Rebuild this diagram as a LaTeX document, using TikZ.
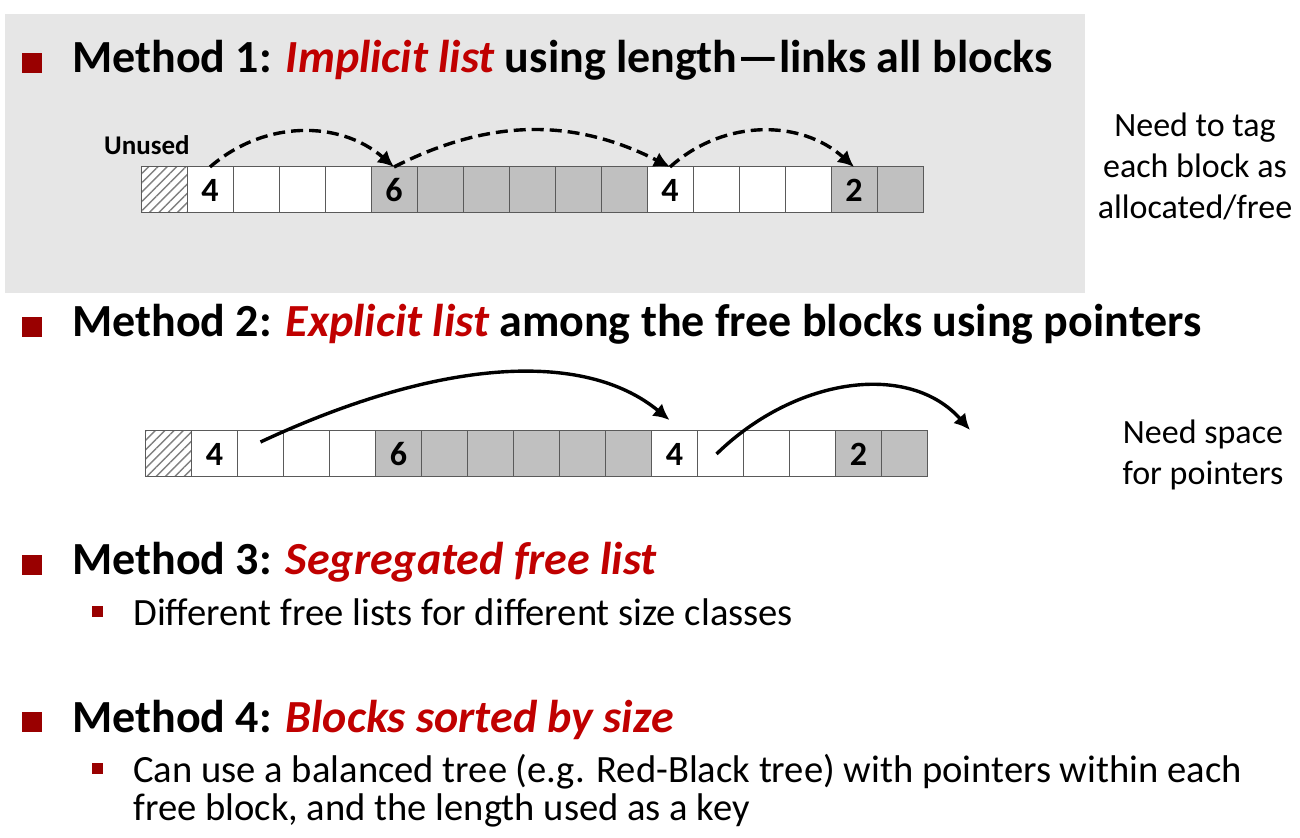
\documentclass[tikz,border=0pt]{standalone}
\usepackage{fontspec}
\setmainfont{Carlito}
\usepackage{xcolor}
\usetikzlibrary{arrows.meta, positioning, patterns.meta}
\definecolor{rougeTitre}{HTML}{C00000}
\definecolor{rougePuce}{HTML}{990000}
\definecolor{grisFond}{HTML}{E6E6E6}
\definecolor{grisBloc}{HTML}{C0C0C0}
\definecolor{grisBord}{HTML}{5A5A5A}

\begin{document}
\begin{tikzpicture}[
				x=0.5pt, y=-0.5pt,
				node distance=0pt,
				% Styles des cases
				case/.style={draw=grisBord, line width=0.5pt, minimum width=23pt, minimum height=23pt, inner sep=0pt, outer sep=0pt, font=\fontsize{17}{18}\selectfont\bfseries},
				libre/.style={case, fill=white},
				occupe/.style={case, fill=grisBloc},
				hachure/.style={case, preaction={fill=white}, pattern={Lines[angle=45, distance=3.3pt, line width=0.7pt]}, pattern color=gray},
				% Styles du texte
				titre/.style={anchor=base west, inner sep=0pt, font=\fontsize{23}{27}\selectfont\bfseries},
				sousTexte/.style={anchor=base west, inner sep=0pt, align=left, font=\fontsize{19.3}{19}\selectfont},
				note/.style={align=center, inner sep=0pt, font=\fontsize{17}{20.5}\selectfont},
				puce/.style={fill=rougePuce, minimum size=10pt, inner sep=0pt, anchor=south west},
				petitePuce/.style={fill=rougePuce, minimum size=5.5pt, inner sep=0pt, anchor=south west},
				% Styles des fleches
				flecheTirets/.style={-{Latex[length=8pt, width=8pt]}, line width=1.7pt, dash pattern=on 6pt off 3pt},
				fleche/.style={-{Latex[length=8pt, width=8pt]}, line width=1.7pt},
				]
				
				\useasboundingbox (0,0) rectangle (1300,838);
				\fill[grisFond] (5,14) rectangle (1085,293);
				
				% Methode 1
				\node[puce] (puce1) at (22,73) {};
				\node[titre] (titre1) at (72,73) {Method 1: \textcolor{rougeTitre}{\itshape Implicit list} using length---links all blocks};
				
				\node[hachure] (A0) at (164,190) {};
				\node[libre, right=of A0] (A1) {4};
				\node[libre, right=of A1] (A2) {};
				\node[libre, right=of A2] (A3) {};
				\node[libre, right=of A3] (A4) {};
				\node[occupe, right=of A4] (A5) {6};
				\node[occupe, right=of A5] (A6) {};
				\node[occupe, right=of A6] (A7) {};
				\node[occupe, right=of A7] (A8) {};
				\node[occupe, right=of A8] (A9) {};
				\node[occupe, right=of A9] (A10) {};
				\node[libre, right=of A10] (A11) {4};
				\node[libre, right=of A11] (A12) {};
				\node[libre, right=of A12] (A13) {};
				\node[libre, right=of A13] (A14) {};
				\node[occupe, right=of A14] (A15) {2};
				\node[occupe, right=of A15] (A16) {};
				
				\node[anchor=base east, inner sep=0pt, font=\fontsize{13.5}{15}\selectfont\bfseries] (inutilise) at (190,155) {Unused};
				
				\draw[flecheTirets] (A1.north) to[bend left=41] (A5.north);
				\draw[flecheTirets] (A5.north) to[bend left=27] (A11.north);
				\draw[flecheTirets] (A11.north) to[bend left=42] (A15.north);
				
				\node[note] (noteTag) at (1195,166) {Need to tag\\each block as\\allocated/free};
				
				% Methode 2
				\node[puce] (puce2) at (22,337) {};
				\node[titre] (titre2) at (72,337) {Method 2: \textcolor{rougeTitre}{\itshape Explicit list} among the free blocks using pointers};
				
				\node[hachure] (B0) at (168.5,454) {};
				\node[libre, right=of B0] (B1) {4};
				\node[libre, right=of B1] (B2) {};
				\node[libre, right=of B2] (B3) {};
				\node[libre, right=of B3] (B4) {};
				\node[occupe, right=of B4] (B5) {6};
				\node[occupe, right=of B5] (B6) {};
				\node[occupe, right=of B6] (B7) {};
				\node[occupe, right=of B7] (B8) {};
				\node[occupe, right=of B8] (B9) {};
				\node[occupe, right=of B9] (B10) {};
				\node[libre, right=of B10] (B11) {4};
				\node[libre, right=of B11] (B12) {};
				\node[libre, right=of B12] (B13) {};
				\node[libre, right=of B13] (B14) {};
				\node[occupe, right=of B14] (B15) {2};
				\node[occupe, right=of B15] (B16) {};
				
				\coordinate (finPointeur) at (970,430);
				\draw[fleche] ([yshift=6pt]B2.center) .. controls +(180,-84) and +(-85,-70) .. ([shift={(-2.5pt,5.5pt)}]B11.north);
				\draw[fleche] ([xshift=-2pt]B12.center) .. controls +(80,-78) and +(-60,-68) .. (finPointeur);
				
				\node[note] (notePointeurs) at (1203,455) {Need space\\for pointers};
				
				% Methode 3
				\node[puce] (puce3) at (22,575) {};
				\node[titre] (titre3) at (72,575) {Method 3: \textcolor{rougeTitre}{\itshape Segregated free list}};
				\node[petitePuce] (sousPuce3) at (92,617) {};
				\node[sousTexte] (texte3) at (133,625) {Different free lists for different size classes};
				
				% Methode 4
				\node[puce] (puce4) at (22,732) {};
				\node[titre] (titre4) at (72,732) {Method 4: \textcolor{rougeTitre}{\itshape Blocks sorted by size}};
				\node[petitePuce] (sousPuce4) at (92,774) {};
				\node[sousTexte] (texte4) at (133,820) {Can use a balanced tree (e.g. Red-Black tree) with pointers within each\\free block, and the length used as a key};
			\end{tikzpicture}
\end{document}
